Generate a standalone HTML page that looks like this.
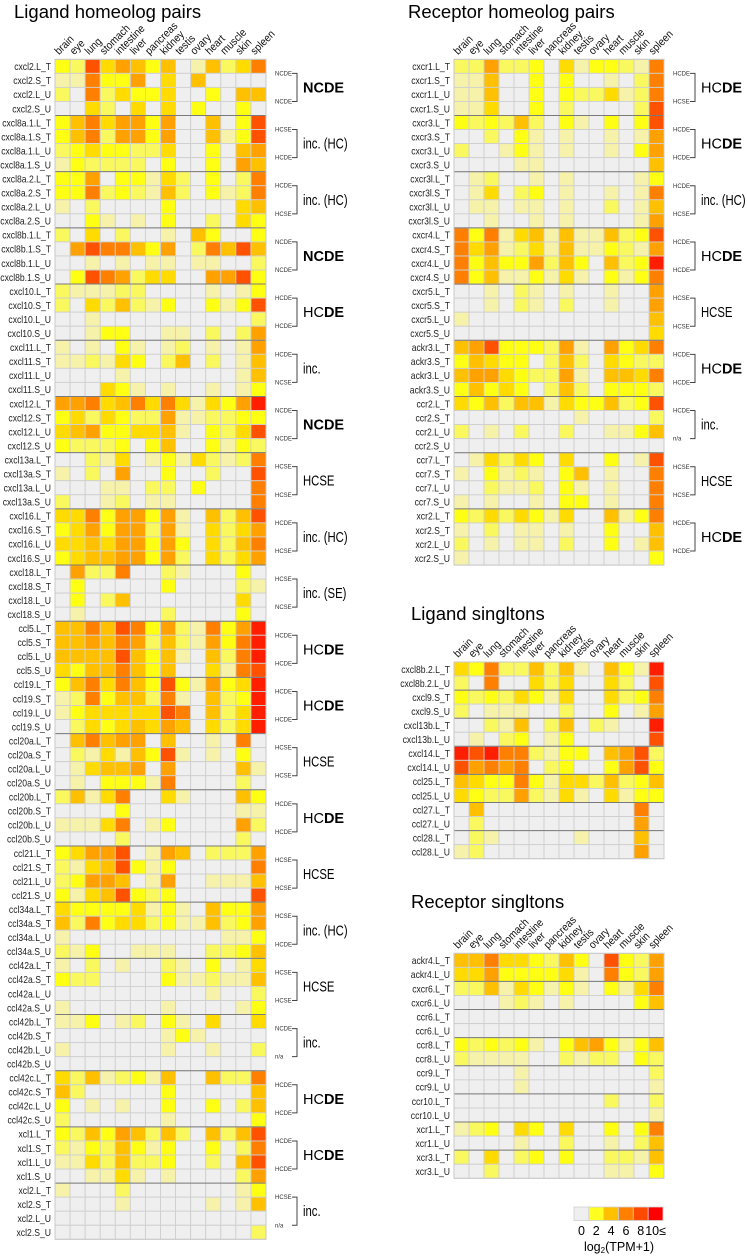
<!DOCTYPE html>
<html><head><meta charset="utf-8">
<style>
html,body{margin:0;padding:0;background:#fff;}
svg{display:block;font-family:"Liberation Sans",sans-serif;}
</style></head>
<body>
<svg id="fig" width="747" height="1257" viewBox="0 0 747 1257" xmlns="http://www.w3.org/2000/svg"></svg>
<script>
// ---- shared data ----
const tissues = ["brain","eye","lung","stomach","intestine","liver","pancreas","kidney","testis","ovary","heart","muscle","skin","spleen"];
const levelColors = ["#efefef","#f6f2aa","#f9f85e","#ffff14","#ffdb00","#ffc000","#ffa100","#ff8000","#ff5200","#ff1e00"];

// Ligand homeolog pairs
const ligGenes = ["cxcl2","cxcl8a.1","cxcl8a.2","cxcl8b.1","cxcl10","cxcl11","cxcl12","cxcl13a","cxcl16","cxcl18","ccl5","ccl19","ccl20a","ccl20b","ccl21","ccl34a","ccl42a","ccl42b","ccl42c","xcl1","xcl2"];
const ligValues = [
"32846535015247","11733604050000","20724334003055","00420404030030",
"35746636005038","35726636005138","23433224003056","13222203003065",
"33603314203027","33723215203127","10200003000045","00310103002043",
"20402001053003","06877536027585","00101011011002","03876244006683",
"21112200001013","20425213003138","00100000000002","00133001102026",
"10103101201016","11214302502015","00001000000015","00043101001013",
"66745747414369","34243226112233","45633445103248","32223035003132",
"00214013142127","10206003002008","00011022030007","20012011000007",
"44736636105258","34636626104246","44546636304257","34556636204246",
"06227002100030","03000003000021","03025000000040","01000002000030",
"55758736217369","55657625216379","55558535105279","43557535004178",
"35747538316349","12735527105239","13444448705249","02434546504249",
"05756605001070","02141538101030","01455606000051","01033317000020",
"25147004100053","00003000000011","11147013000062","00002000000020",
"34668016502226","21458313000007","23665016001115","31458323000008",
"43333413105336","52734423115236","10000000000113","21300111002235",
"10201002103014","32200003112115","00000000001002","10000001000013",
"11301203104004","00000001310000","10000001001002","00000000000000",
"42512315005227","52000003000005","30101003003025","20000001000003",
"32536525205258","21325313003027","11425223002058","00114101000026",
"10002000000013","00001000001015","00000000000000","00000000000002"];
const ligSmall = [["NCDE","NCDE"],["HCSE","HCDE"],["HCDE","HCSE"],["NCDE","NCDE"],["HCDE","HCDE"],["HCDE","NCSE"],["NCDE","NCDE"],["HCSE","HCSE"],["HCDE","HCSE"],["HCSE","NCSE"],["HCDE","HCDE"],["HCDE","HCDE"],["HCSE","HCSE"],["HCDE","HCDE"],["HCSE","HCSE"],["HCSE","HCDE"],["HCSE","HCSE"],["NCDE","n/a"],["HCDE","HCDE"],["HCDE","HCDE"],["HCSE","n/a"]];
const ligBig = ["NCDE","inc. (HC)","inc. (HC)","NCDE","HCDE","inc.","NCDE","HCSE","inc. (HC)","inc. (SE)","HCDE","HCDE","HCSE","HCDE","HCSE","inc. (HC)","HCSE","inc.","HCDE","HCDE","inc."];

// Receptor homeolog pairs
const recGenes = ["cxcr1","cxcr3","cxcr3l","cxcr4","cxcr5","ackr3","ccr2","ccr7","xcr2"];
const recValues = [
"22622304133217","11500303001027","11500303224127","11400302000028",
"32325203103038","00203101001016","20013101001036","00001100000005",
"01200101000013","01402301001017","01101101002015","00100101000016",
"73714515115238","74612415113216","73533625305239","73511314103137",
"00102101001006","00102102001006","10000000000005","00000000000004",
"56833326106347","35433025204322","56643226105547","35343025203332",
"43525514335238","00000000100002","20102002001135","00000000000000",
"01424304003018","10312103501007","00211203101007","10100103301007",
"32424314005137","10201101003005","20101102003015","10000000000003"];
const recSmall = [["HCDE","HCSE"],["HCDE","HCDE"],["HCDE","HCSE"],["HCDE","HCDE"],["HCSE","HCSE"],["HCDE","HCDE"],["HCDE","n/a"],["HCSE","HCSE"],["HCDE","HCDE"]];
const recBig = ["HCDE","HCDE","inc. (HC)","HCDE","HCSE","HCDE","inc.","HCSE","HCDE"];

// Ligand singletons
const ligSingleLabels = ["cxcl8b.2.L_T","cxcl8b.2.L_U","cxcl9.S_T","cxcl9.S_U","cxcl13b.L_T","cxcl13b.L_U","cxcl14.L_T","cxcl14.L_U","ccl25.L_T","ccl25.L_U","ccl27.L_T","ccl27.L_U","ccl28.L_T","ccl28.L_U"];
const ligSingleValues = [
"43722525105319","20700424004208","32324314004237","20111002003016",
"00215025021009","01023013000008","98977213305682","86767023003683",
"54337314425235","43226214104133","05000000000070","02000000000060",
"02100000100050","12000000000060"];

// Receptor singletons
const recSingleLabels = ["ackr4.L_T","ackr4.L_U","cxcr6.L_T","cxcr6.L_U","ccr6.L_T","ccr6.L_U","ccr8.L_T","ccr8.L_U","ccr9.L_T","ccr9.L_U","ccr10.L_T","ccr10.L_U","xcr1.L_T","xcr1.L_U","xcr3.L_T","xcr3.L_U"];
const recSingleValues = [
"55744325308326","44633334107326","22514313103147","00012101000035",
"00000000000000","00000000000000","32323103563135","21111002122032",
"00001000000002","00001000000001","00000000002002","00000000000001",
"12304304003037","00001002001025","20402303002215","00200000001103"];

// legend
const legendTicks = ["0","2","4","6","8","10≤"];
const legendColors = ["#efefef","#ffff22","#ffc000","#ff8000","#ff4800","#ff0000"];

// ---- drawing ----
const NS = "http://www.w3.org/2000/svg";
const svg = document.getElementById("fig");
function mk(tag, attrs, parent){
  const e = document.createElementNS(NS, tag);
  for (const k in attrs) e.setAttribute(k, attrs[k]);
  (parent||svg).appendChild(e);
  return e;
}
function condense(el, f){
  try {
    const L = el.getComputedTextLength();
    if (L > 0){ el.setAttribute("textLength", (L*f).toFixed(1)); el.setAttribute("lengthAdjust","spacingAndGlyphs"); }
  } catch(e){}
}
function colorOf(v){ return levelColors[Math.max(0,Math.min(9,v))]; }

function drawPanel(o){
  const g = mk("g", {});
  
  
  const cw = o.w / tissues.length, rh = o.h / o.labels.length;
  const xPos = i => o.x + i*cw;
  const yPos = r => o.y + r*rh;
  const t = mk("text", {x:o.tx, y:o.ty, "font-size":18.5, fill:"#000"}, g);
  t.textContent = o.title;
  
  
  tissues.forEach((c,i)=>{
    const lx = xPos(i)+4, ly = o.y-4;
    const tt = mk("text", {x:lx, y:ly, "font-size":11, fill:"#111", transform:`rotate(-45 ${lx} ${ly})`}, g);
    tt.textContent = c;
    
    
    condense(tt, 0.9);
  });
  o.values.forEach((row, r)=>{
    const rl = mk("text", {x:o.x-4, y:yPos(r)+rh/2+3.8, "font-size":10.5, "text-anchor":"end", fill:"#222"}, g);
    rl.textContent = o.labels[r];
    
    
    condense(rl, 0.82);
    for (let i=0;i<tissues.length;i++){
      const v = parseInt(row[i],10);
      const c = mk("rect", {x:xPos(i), y:yPos(r), width:cw, height:rh, fill:colorOf(v), stroke:"#cfcfcf", "stroke-width":0.9}, g);
      
      
    }
  });
  for (let r=o.group; r<o.labels.length; r+=o.group){
    const l = mk("line", {x1:o.x, x2:o.x+o.w, y1:yPos(r), y2:yPos(r), stroke:"#7a7a7a", "stroke-width":1}, g);
    
    
  }
  mk("rect", {x:o.x, y:o.y, width:o.w, height:o.h, fill:"none", stroke:"#c8c8c8", "stroke-width":1}, g);
  if (o.small){
    const x1 = o.x + o.w;
    o.small.forEach((pair, gi)=>{
      const top = yPos(gi*4);
      const ya = top + rh, yb = top + 3*rh;
      [[pair[0],ya],[pair[1],yb]].forEach(([s,yy])=>{
        const st = mk("text", {x:x1+9, y:yy+2, "font-size":6, fill:"#333"}, g);
        st.textContent = s;
        
        
      });
      const bx = x1+31;
      const br = mk("path", {d:`M${bx-5} ${ya} H${bx} V${yb} H${bx-5}`, fill:"none", stroke:"#444", "stroke-width":1}, g);
      
      
      const lab = o.big[gi];
      const bt = mk("text", {x:x1+37, y:top+2*rh+5, "font-size":14.5, fill:"#000"}, g);
      
      
      if (lab === "NCDE"){ bt.setAttribute("font-weight","bold"); bt.textContent = lab; }
      else if (lab === "HCDE"){
        const a = mk("tspan", {}, bt); a.textContent = "HC";
        const b = mk("tspan", {"font-weight":"bold"}, bt); b.textContent = "DE";
      } else {
        bt.textContent = lab;
        condense(bt, 0.78);
      }
    });
  }
}

function pairLabels(genes){
  const out = [];
  genes.forEach(gn => ["L_T","S_T","L_U","S_U"].forEach(s => out.push(gn+"."+s)));
  return out;
}

drawPanel({name:"ligand-homeolog-heatmap", title:"Ligand homeolog pairs", tx:14, ty:18, x:55, y:59.3, w:211, h:1180,
  labels:pairLabels(ligGenes), values:ligValues, group:4, small:ligSmall, big:ligBig});
drawPanel({name:"receptor-homeolog-heatmap", title:"Receptor homeolog pairs", tx:408, ty:18, x:454, y:59.3, w:210, h:505.8,
  labels:pairLabels(recGenes), values:recValues, group:4, small:recSmall, big:recBig});
drawPanel({name:"ligand-singleton-heatmap", title:"Ligand singltons", tx:411, ty:620, x:454, y:662, w:210, h:196.7,
  labels:ligSingleLabels, values:ligSingleValues, group:2});
drawPanel({name:"receptor-singleton-heatmap", title:"Receptor singltons", tx:411, ty:908, x:454, y:953.3, w:210, h:225,
  labels:recSingleLabels, values:recSingleValues, group:2});

const lg = mk("g", {});


const lx0 = 574, lw = 89/legendColors.length;
legendColors.forEach((c,i)=>{
  const r = mk("rect", {x:lx0+i*lw, y:1207, width:lw, height:13.5, fill:c, stroke:"#cfcfcf", "stroke-width":0.8}, lg);
  
  
});
legendTicks.forEach((t,i)=>{
  const tx = mk("text", {x:lx0+i*lw+lw/2, y:1235, "font-size":12.5, "text-anchor":"middle", fill:"#000"}, lg);
  tx.textContent = t;
  
  
});
const lt = mk("text", {x:619, y:1251, "font-size":12.5, "text-anchor":"middle", fill:"#000"}, lg);


const a1 = mk("tspan", {}, lt); a1.textContent = "log";
const a2 = mk("tspan", {"font-size":8, dy:2}, lt); a2.textContent = "2";
const a3 = mk("tspan", {dy:-2}, lt); a3.textContent = "(TPM+1)";
</script>
</body></html>
